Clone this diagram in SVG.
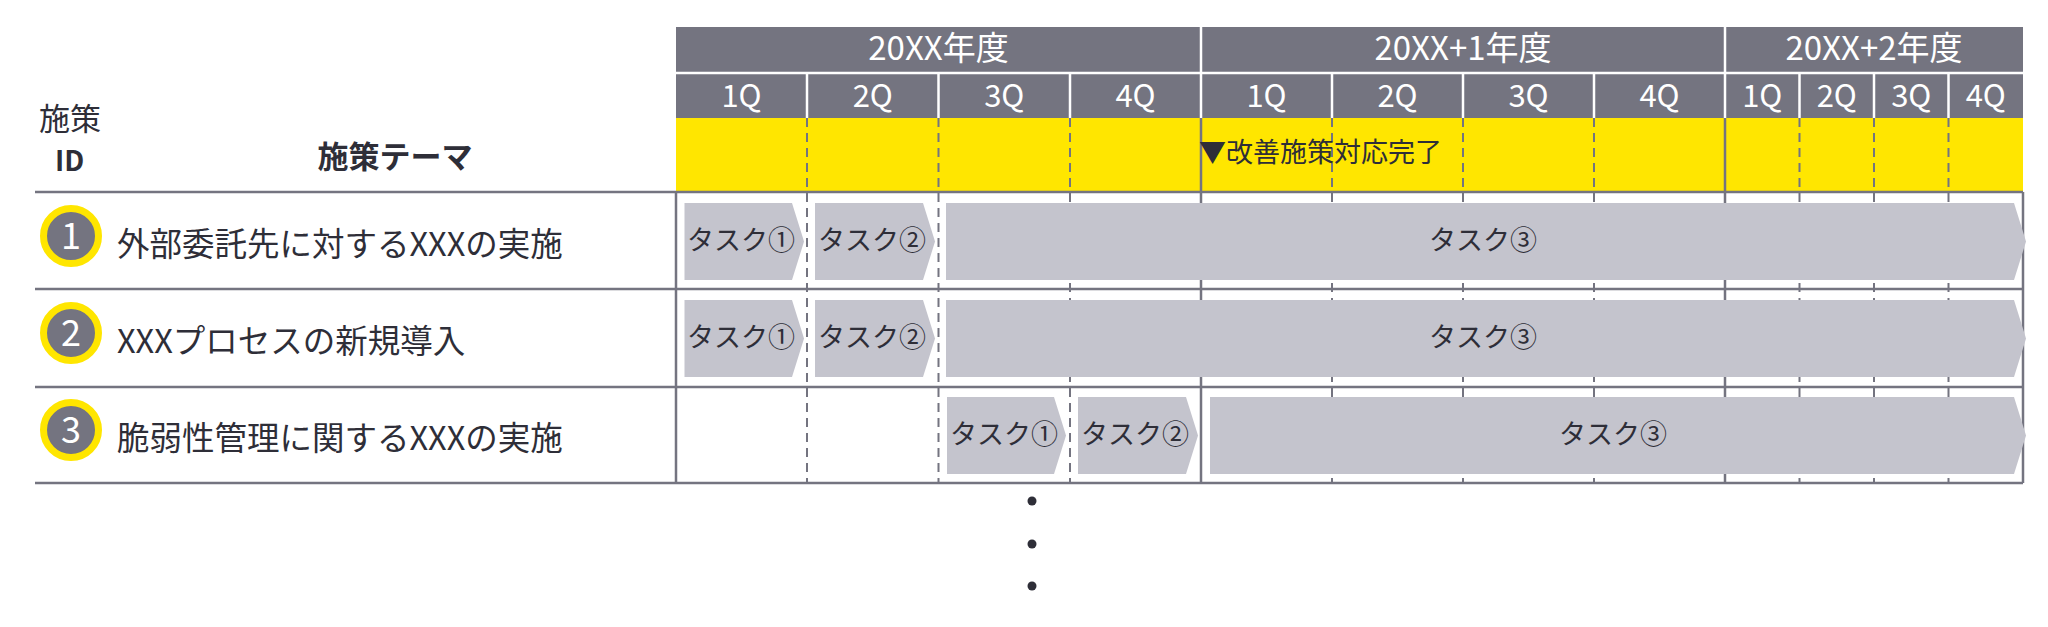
<svg xmlns="http://www.w3.org/2000/svg" width="2048" height="627" viewBox="0 0 2048 627">
<style>
text{font-family:"Noto Sans CJK JP","Noto Sans",sans-serif;}
.hd{fill:#747480;}
.wl{stroke:#ffffff;stroke-width:2.5;}
.gl{stroke:#747480;stroke-width:2.5;}
.dl{stroke:#747480;stroke-width:2;stroke-dasharray:9 6;}
.yt{fill:#ffffff;font-size:33px;text-anchor:middle;}
.qt{fill:#ffffff;font-size:31px;text-anchor:middle;}
.bar{fill:#c4c4cd;}
.bt{fill:#2e2e38;font-size:27px;text-anchor:middle;}
.rt{fill:#2e2e38;font-size:32.5px;}
.ring{fill:#747480;stroke:#ffe600;stroke-width:7;}
.num{fill:#ffffff;font-size:36px;text-anchor:middle;}
.lab{fill:#2e2e38;}
</style>

<g id="header">
  <rect class="hd" x="676" y="27" width="1347" height="91"/>
  <line class="wl" x1="676" y1="73" x2="2023" y2="73"/>
  <line class="wl" x1="1201" y1="27" x2="1201" y2="118"/>
  <line class="wl" x1="1725" y1="27" x2="1725" y2="118"/>
  <g>
    <line class="wl" x1="807" y1="73" x2="807" y2="118"/>
    <line class="wl" x1="938.5" y1="73" x2="938.5" y2="118"/>
    <line class="wl" x1="1070" y1="73" x2="1070" y2="118"/>
    <line class="wl" x1="1332" y1="73" x2="1332" y2="118"/>
    <line class="wl" x1="1463" y1="73" x2="1463" y2="118"/>
    <line class="wl" x1="1594" y1="73" x2="1594" y2="118"/>
    <line class="wl" x1="1799.5" y1="73" x2="1799.5" y2="118"/>
    <line class="wl" x1="1874" y1="73" x2="1874" y2="118"/>
    <line class="wl" x1="1948.5" y1="73" x2="1948.5" y2="118"/>
  </g>
  <text class="yt" x="938.5" y="60">20XX年度</text>
  <text class="yt" x="1463" y="60">20XX+1年度</text>
  <text class="yt" x="1874" y="60">20XX+2年度</text>
  <text class="qt" x="741.5" y="107">1Q</text>
  <text class="qt" x="872.75" y="107">2Q</text>
  <text class="qt" x="1004.25" y="107">3Q</text>
  <text class="qt" x="1135.5" y="107">4Q</text>
  <text class="qt" x="1266.5" y="107">1Q</text>
  <text class="qt" x="1397.5" y="107">2Q</text>
  <text class="qt" x="1528.5" y="107">3Q</text>
  <text class="qt" x="1659.5" y="107">4Q</text>
  <text class="qt" x="1762.25" y="107">1Q</text>
  <text class="qt" x="1836.75" y="107">2Q</text>
  <text class="qt" x="1911.25" y="107">3Q</text>
  <text class="qt" x="1985.75" y="107">4Q</text>
</g>

<g id="milestone-band">
  <rect x="676" y="118" width="1347" height="74" fill="#ffe600"/>
</g>

<g id="column-labels">
  <text class="lab" x="39" y="130" font-size="31">施策</text>
  <text class="lab" x="55" y="171" font-size="28" font-weight="bold">ID</text>
  <text class="lab" x="395" y="168" font-size="31" font-weight="bold" text-anchor="middle">施策テーマ</text>
</g>

<g id="grid">
  <line class="dl" x1="807" y1="118" x2="807" y2="483"/>
  <line class="dl" x1="938.5" y1="118" x2="938.5" y2="483"/>
  <line class="dl" x1="1070" y1="118" x2="1070" y2="483"/>
  <line class="dl" x1="1332" y1="118" x2="1332" y2="483"/>
  <line class="dl" x1="1463" y1="118" x2="1463" y2="483"/>
  <line class="dl" x1="1594" y1="118" x2="1594" y2="483"/>
  <line class="dl" x1="1799.5" y1="118" x2="1799.5" y2="483"/>
  <line class="dl" x1="1874" y1="118" x2="1874" y2="483"/>
  <line class="dl" x1="1948.5" y1="118" x2="1948.5" y2="483"/>
  <line class="gl" x1="1201" y1="118" x2="1201" y2="483"/>
  <line class="gl" x1="1725" y1="118" x2="1725" y2="483"/>
  <line class="gl" x1="676" y1="192" x2="676" y2="483"/>
  <line class="gl" x1="2023" y1="192" x2="2023" y2="483"/>
  <line class="gl" x1="35" y1="192" x2="2023" y2="192"/>
  <line class="gl" x1="35" y1="289" x2="2023" y2="289"/>
  <line class="gl" x1="35" y1="387" x2="2023" y2="387"/>
  <line class="gl" x1="35" y1="483" x2="2023" y2="483"/>
</g>

<g id="milestone">
  <text class="lab" x="1199" y="162" font-size="27">▼改善施策対応完了</text>
</g>

<g id="row-1">
  <circle class="ring" cx="71" cy="236" r="27.5"/>
  <text class="num" x="71" y="249">1</text>
  <text class="rt" x="117" y="256">外部委託先に対するXXXの実施</text>
  <polygon class="bar" points="684.5,203 792,203 804,241.5 792,280 684.5,280"/>
  <text class="bt" x="741" y="250">タスク①</text>
  <polygon class="bar" points="815,203 923,203 935,241.5 923,280 815,280"/>
  <text class="bt" x="872" y="250">タスク②</text>
  <polygon class="bar" points="946,203 2014,203 2026,241.5 2014,280 946,280"/>
  <text class="bt" x="1483" y="250">タスク③</text>
</g>

<g id="row-2">
  <circle class="ring" cx="71" cy="333" r="27.5"/>
  <text class="num" x="71" y="346">2</text>
  <text class="rt" x="117" y="353">XXXプロセスの新規導入</text>
  <polygon class="bar" points="684.5,300 792,300 804,338.5 792,377 684.5,377"/>
  <text class="bt" x="741" y="347">タスク①</text>
  <polygon class="bar" points="815,300 923,300 935,338.5 923,377 815,377"/>
  <text class="bt" x="872" y="347">タスク②</text>
  <polygon class="bar" points="946,300 2014,300 2026,338.5 2014,377 946,377"/>
  <text class="bt" x="1483" y="347">タスク③</text>
</g>

<g id="row-3">
  <circle class="ring" cx="71" cy="430" r="27.5"/>
  <text class="num" x="71" y="443">3</text>
  <text class="rt" x="117" y="450">脆弱性管理に関するXXXの実施</text>
  <polygon class="bar" points="947,397 1054,397 1066,435.5 1054,474 947,474"/>
  <text class="bt" x="1004" y="444">タスク①</text>
  <polygon class="bar" points="1078,397 1186,397 1198,435.5 1186,474 1078,474"/>
  <text class="bt" x="1135" y="444">タスク②</text>
  <polygon class="bar" points="1210,397 2014,397 2026,435.5 2014,474 1210,474"/>
  <text class="bt" x="1613" y="444">タスク③</text>
</g>

<g id="ellipsis">
  <circle cx="1032" cy="501" r="4.5" fill="#2e2e38"/>
  <circle cx="1032" cy="544" r="4.5" fill="#2e2e38"/>
  <circle cx="1032" cy="586" r="4.5" fill="#2e2e38"/>
</g>
</svg>
